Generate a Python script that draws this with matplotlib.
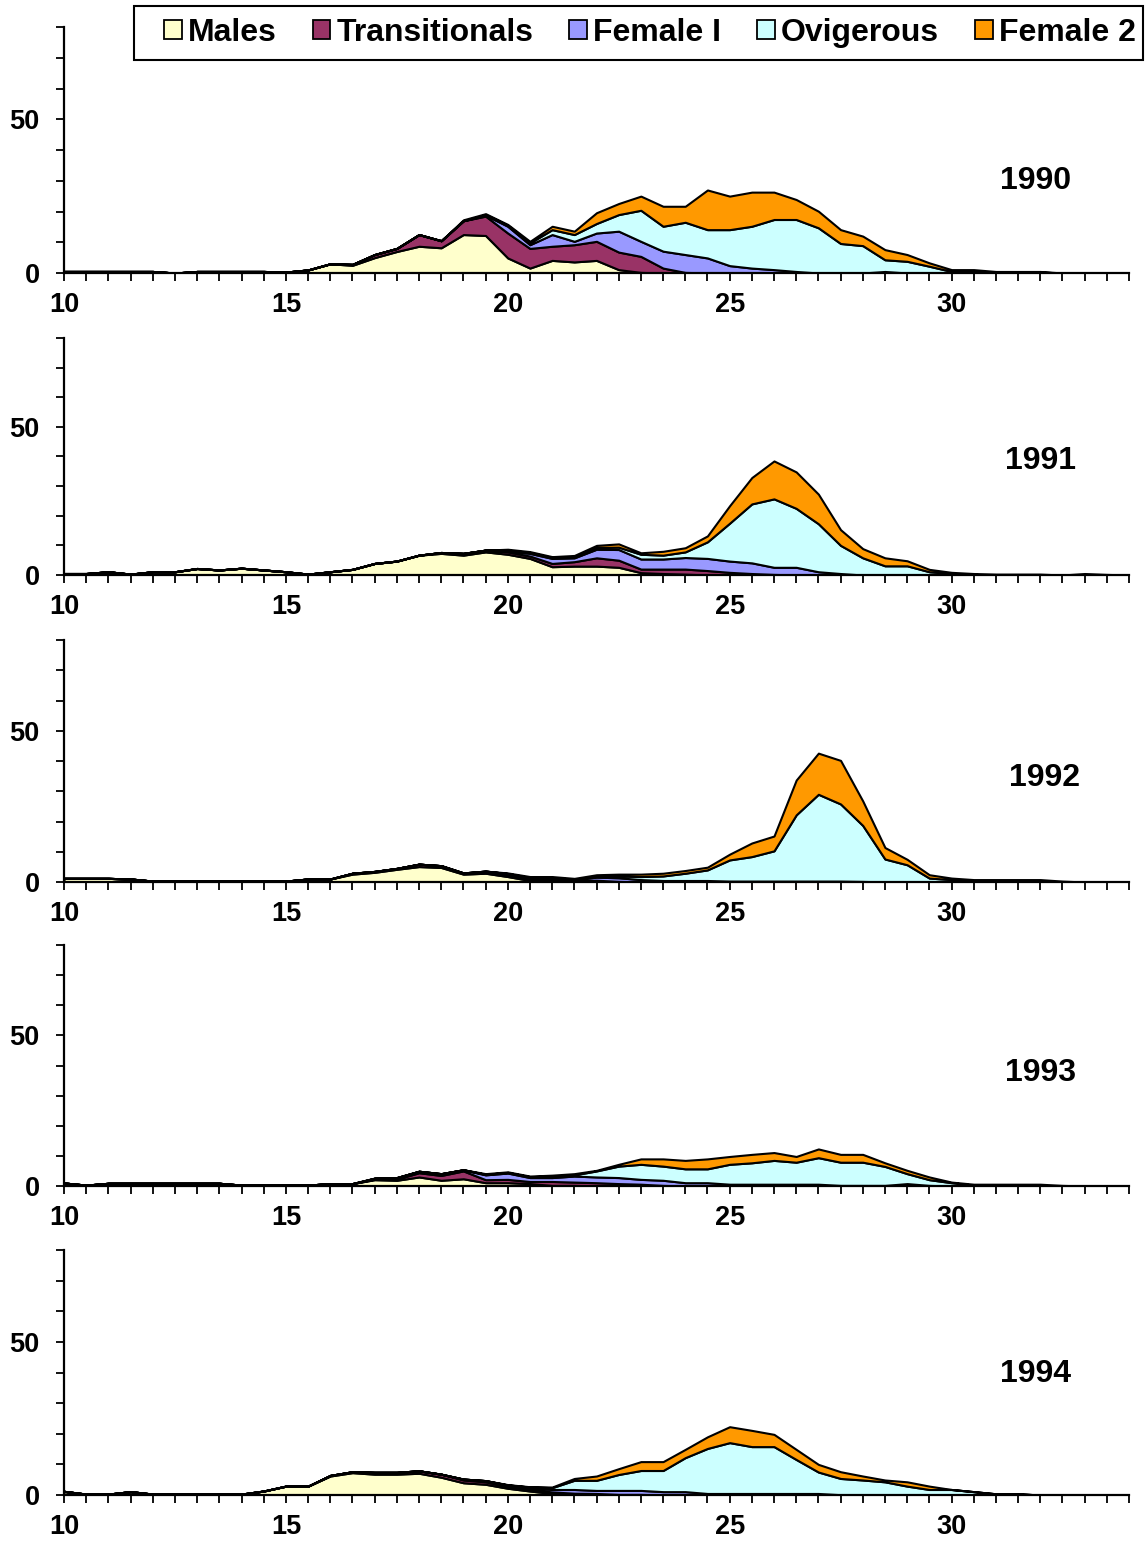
import numpy as np
import matplotlib.pyplot as plt
from matplotlib.patches import Patch, Rectangle
from matplotlib.ticker import MultipleLocator

plt.rcParams['font.family'] = ['Liberation Sans', 'DejaVu Sans']
plt.rcParams['font.weight'] = 'bold'

# carapace length classes 10 .. 34 step 0.5
sizes = np.arange(10, 34.01, 0.5)

series_names = ['Males', 'Transitionals', 'Female I', 'Ovigerous', 'Female 2']
series_colors = ['#FFFFCC', '#993366', '#9999FF', '#CCFFFF', '#FF9900']
years = ['1990', '1991', '1992', '1993', '1994']

# ---- 1990
males_1990 = [0.5, 0.5, 0.5, 0.5, 0.5, 0, 0.5, 0.5, 0.5, 0.5,
              0.3, 1, 3, 2.5, 5, 7, 8.7, 8.2, 12.5, 12.2,
              4.9, 1.6, 4.1, 3.6, 4.1, 1.1, 0.2, 0, 0, 0,
              0, 0, 0, 0, 0, 0, 0, 0, 0, 0,
              0, 0, 0, 0, 0, 0, 0, 0, 0]
trans_1990 = [0, 0, 0, 0, 0, 0, 0, 0, 0, 0,
              0, 0, 0, 0.3, 1, 1, 3.8, 2.3, 4.5, 6.3,
              8.1, 6.4, 4.6, 5.6, 6.2, 5.7, 5.2, 1.6, 0.2, 0,
              0, 0, 0, 0, 0, 0, 0, 0, 0, 0,
              0, 0, 0, 0, 0, 0, 0, 0, 0]
femI_1990 = [0, 0, 0, 0, 0, 0, 0, 0, 0, 0,
             0, 0, 0, 0, 0, 0, 0, 0, 0, 0.3,
             2.2, 1.2, 3.8, 1.1, 2.7, 6.8, 4.9, 5.5, 5.8, 4.9,
             2.4, 1.6, 1.1, 0.5, 0, 0, 0, 0.5, 0, 0,
             0, 0, 0, 0, 0, 0, 0, 0, 0]
ovig_1990 = [0, 0, 0, 0, 0, 0, 0, 0, 0, 0,
             0, 0, 0, 0, 0, 0, 0, 0, 0, 0.2,
             0.3, 0.6, 1.6, 2.2, 3.1, 5.4, 10.1, 8.1, 10.5, 9.2,
             11.7, 13.6, 16.3, 16.9, 14.7, 9.6, 8.9, 3.8, 3.8, 2.2,
             0.5, 0.5, 0.3, 0.3, 0.3, 0, 0, 0, 0]
fem2_1990 = [0, 0, 0, 0, 0, 0, 0, 0, 0, 0,
             0, 0, 0, 0, 0, 0, 0, 0, 0.3, 0.3,
             0.3, 0.5, 1.1, 1.1, 3.5, 3.6, 4.6, 6.5, 5.2, 12.9,
             10.9, 11.1, 8.9, 6.5, 5.4, 4.5, 3.1, 3.3, 2.2, 1.1,
             0.6, 0.6, 0.2, 0.2, 0.2, 0, 0, 0, 0]

# ---- 1991
males_1991 = [0.5, 0.5, 1.1, 0.3, 1.1, 1.1, 2.2, 1.7, 2.3, 1.7,
              1.1, 0.3, 1.1, 1.9, 3.9, 4.7, 6.7, 7.3, 6.7, 7.8,
              7.0, 5.6, 2.8, 3.0, 3.0, 2.6, 0.8, 0.5, 0.3, 0,
              0, 0, 0, 0, 0, 0, 0, 0, 0, 0,
              0, 0, 0, 0, 0, 0, 0, 0, 0]
trans_1991 = [0, 0, 0, 0, 0, 0, 0, 0, 0, 0,
              0, 0, 0, 0, 0, 0, 0, 0.3, 0.6, 0.6,
              0.8, 0.8, 1.1, 1.5, 2.8, 2.4, 1.2, 1.5, 1.7, 1.5,
              0.9, 0.5, 0.2, 0, 0, 0, 0, 0, 0, 0,
              0, 0, 0, 0, 0, 0, 0, 0, 0]
femI_1991 = [0, 0, 0, 0, 0, 0, 0, 0, 0, 0,
             0, 0, 0, 0, 0, 0, 0, 0, 0, 0,
             0.4, 0.9, 1.7, 1.3, 2.9, 3.6, 3.4, 3.4, 3.9, 4.1,
             3.8, 3.6, 2.4, 2.6, 1.1, 0.5, 0, 0, 0, 0,
             0, 0, 0, 0, 0, 0, 0, 0, 0]
ovig_1991 = [0, 0, 0, 0, 0, 0, 0, 0, 0, 0,
             0, 0, 0, 0, 0, 0, 0, 0, 0, 0,
             0.2, 0.3, 0.3, 0.3, 0.6, 0.8, 1.6, 1.3, 1.9, 5.6,
             12.8, 19.9, 23.1, 19.9, 16.2, 9.5, 5.8, 3.1, 3.1, 1.1,
             0.5, 0.2, 0, 0, 0, 0, 0, 0, 0]
fem2_1991 = [0, 0, 0, 0, 0, 0, 0, 0, 0, 0,
             0, 0, 0, 0, 0, 0, 0, 0, 0, 0,
             0.3, 0.3, 0.3, 0.5, 0.7, 1.1, 0.5, 1.3, 1.4, 2.0,
             5.9, 8.9, 12.8, 12.3, 10.0, 5.3, 3.1, 2.7, 1.7, 0.8,
             0.4, 0.3, 0.3, 0.3, 0.3, 0, 0.5, 0.2, 0]

# ---- 1992
males_1992 = [1.2, 1.2, 1.2, 1.0, 0.3, 0.3, 0.3, 0.3, 0.3, 0.3,
              0.3, 1.0, 1.0, 2.6, 3.2, 4.2, 5.1, 4.8, 2.6, 2.9,
              1.8, 0.5, 0.5, 0.3, 0.3, 0.2, 0, 0, 0, 0,
              0, 0, 0, 0, 0, 0, 0, 0, 0, 0,
              0, 0, 0, 0, 0, 0, 0, 0, 0]
trans_1992 = [0, 0, 0, 0, 0, 0, 0, 0, 0, 0,
              0, 0, 0, 0.3, 0.3, 0.3, 0.8, 0.6, 0.4, 0.5,
              0.6, 0.6, 0.5, 0.3, 0.3, 0, 0, 0, 0, 0,
              0, 0, 0, 0, 0, 0, 0, 0, 0, 0,
              0, 0, 0, 0, 0, 0, 0, 0, 0]
femI_1992 = [0, 0, 0, 0, 0, 0, 0, 0, 0, 0,
             0, 0, 0, 0, 0, 0, 0, 0, 0, 0.2,
             0.4, 0.4, 0.5, 0.3, 1.0, 1.2, 0.8, 0.5, 0.5, 0.5,
             0.3, 0.3, 0.3, 0.3, 0.3, 0.3, 0.2, 0, 0, 0,
             0, 0, 0, 0, 0, 0, 0, 0, 0]
ovig_1992 = [0, 0, 0, 0, 0, 0, 0, 0, 0, 0,
             0, 0, 0, 0, 0, 0, 0, 0, 0, 0,
             0, 0, 0, 0, 0.3, 0.6, 1.0, 1.5, 2.4, 3.5,
             7.0, 8.1, 10.0, 21.9, 28.7, 25.5, 18.5, 7.6, 5.7, 1.3,
             0.8, 0.3, 0, 0, 0, 0, 0, 0, 0]
fem2_1992 = [0, 0, 0, 0, 0, 0, 0, 0, 0, 0,
             0, 0, 0, 0, 0, 0, 0, 0, 0, 0,
             0.2, 0.3, 0.3, 0.3, 0.5, 0.6, 0.8, 0.9, 0.9, 0.9,
             1.9, 4.5, 4.9, 11.5, 13.6, 14.4, 8.1, 3.8, 1.8, 1.1,
             0.5, 0.5, 0.8, 0.8, 0.8, 0.3, 0, 0, 0]

# ---- 1993
males_1993 = [1.0, 0.3, 0.9, 0.9, 0.9, 0.9, 0.9, 0.9, 0.3, 0.3,
              0.3, 0.3, 0.8, 0.8, 2.1, 1.9, 3.0, 1.9, 2.4, 1.1,
              1.1, 0.8, 0.2, 0.2, 0, 0, 0, 0, 0, 0,
              0, 0, 0, 0, 0, 0, 0, 0, 0, 0,
              0, 0, 0, 0, 0, 0, 0, 0, 0]
trans_1993 = [0, 0, 0, 0, 0, 0, 0, 0, 0, 0,
              0, 0, 0, 0, 0.2, 0.4, 1.4, 1.6, 2.6, 1.0,
              1.1, 0.7, 1.3, 1.1, 1.1, 0.8, 0.6, 0.2, 0, 0,
              0, 0, 0, 0, 0, 0, 0, 0, 0, 0,
              0, 0, 0, 0, 0, 0, 0, 0, 0]
femI_1993 = [0, 0, 0, 0, 0, 0, 0, 0, 0, 0,
             0, 0, 0, 0, 0.3, 0.5, 0.5, 0.6, 0.4, 1.6,
             2.1, 1.3, 1.3, 2.0, 1.9, 2.0, 1.6, 1.7, 1.1, 1.1,
             0.6, 0.6, 0.6, 0.6, 0.6, 0.2, 0.2, 0.2, 0.8, 0.2,
             0, 0, 0, 0, 0, 0, 0, 0, 0]
ovig_1993 = [0, 0, 0, 0, 0, 0, 0, 0, 0, 0,
             0, 0, 0, 0, 0, 0, 0, 0, 0, 0.2,
             0.2, 0.3, 0.5, 0.4, 2.0, 3.8, 5.0, 4.7, 4.6, 4.6,
             6.6, 7.1, 7.9, 7.3, 8.8, 7.7, 7.7, 6.3, 3.3, 1.9,
             1.1, 0.3, 0, 0, 0, 0, 0, 0, 0]
fem2_1993 = [0, 0, 0, 0, 0, 0, 0, 0, 0, 0,
             0, 0, 0, 0, 0, 0, 0, 0, 0, 0.2,
             0.2, 0.2, 0.3, 0.4, 0.2, 0.6, 1.8, 2.4, 2.8, 3.3,
             2.6, 2.8, 2.6, 1.9, 2.9, 2.6, 2.6, 1.2, 1.1, 0.9,
             0.2, 0.3, 0.6, 0.6, 0.6, 0.2, 0, 0, 0]

# ---- 1994
males_1994 = [1.2, 0.3, 0.3, 1.1, 0.3, 0.3, 0.3, 0.3, 0.3, 1.3,
              2.9, 2.9, 6.2, 7.3, 6.8, 6.8, 7.1, 5.8, 4.0, 3.5,
              2.2, 1.3, 0.5, 0.3, 0.2, 0, 0, 0, 0, 0,
              0, 0, 0, 0, 0, 0, 0, 0, 0, 0,
              0, 0, 0, 0, 0, 0, 0, 0, 0]
trans_1994 = [0, 0, 0, 0, 0, 0, 0, 0, 0, 0,
              0, 0, 0.2, 0.3, 0.6, 0.6, 0.8, 1.0, 0.9, 0.8,
              0.6, 0.6, 0.5, 0.3, 0.3, 0.2, 0.2, 0, 0, 0,
              0, 0, 0, 0, 0, 0, 0, 0, 0, 0,
              0, 0, 0, 0, 0, 0, 0, 0, 0]
femI_1994 = [0, 0, 0, 0, 0, 0, 0, 0, 0, 0,
             0, 0, 0, 0, 0, 0, 0, 0, 0.3, 0.4,
             0.4, 0.5, 0.8, 1.2, 1.0, 1.3, 1.3, 1.1, 1.1, 0.5,
             0.5, 0.5, 0.5, 0.5, 0.5, 0.1, 0, 0, 0, 0,
             0, 0, 0, 0, 0, 0, 0, 0, 0]
ovig_1994 = [0, 0, 0, 0, 0, 0, 0, 0, 0, 0,
             0, 0, 0, 0, 0, 0, 0, 0, 0, 0,
             0.1, 0.2, 0.6, 3.0, 3.3, 5.2, 6.5, 6.9, 11.1, 14.7,
             16.6, 15.3, 15.3, 11.1, 7.0, 5.3, 4.9, 4.3, 2.9, 1.8,
             1.8, 1.1, 0.4, 0.4, 0, 0, 0, 0, 0]
fem2_1994 = [0, 0, 0, 0, 0, 0, 0, 0, 0, 0,
             0, 0, 0, 0, 0, 0, 0, 0, 0, 0,
             0.1, 0.1, 0.2, 0.6, 1.4, 1.9, 2.9, 2.9, 2.7, 3.8,
             5.2, 5.3, 4.0, 3.3, 2.5, 2.2, 1.3, 0.6, 1.4, 1.1,
             0, 0, 0, 0, 0, 0, 0, 0, 0]

panels = [
    (males_1990, trans_1990, femI_1990, ovig_1990, fem2_1990),
    (males_1991, trans_1991, femI_1991, ovig_1991, fem2_1991),
    (males_1992, trans_1992, femI_1992, ovig_1992, fem2_1992),
    (males_1993, trans_1993, femI_1993, ovig_1993, fem2_1993),
    (males_1994, trans_1994, femI_1994, ovig_1994, fem2_1994),
]
# year label position (data coords)
year_x = [31.9, 32.0, 32.1, 32.0, 31.9]
year_y = [30, 38.5, 34.5, 37.5, 39.5]

W, H = 1145, 1543
fig = plt.figure(figsize=(W / 100, H / 100), dpi=100)

# axes boxes in pixels: (bottom, top)
boxes = [(273, 27), (575, 338), (882, 640), (1186, 945), (1495, 1250)]
x_left, x_right = 64, 1129

for (ybot, ytop), data, yr, yx, yy in zip(boxes, panels, years, year_x, year_y):
    ax = fig.add_axes([x_left / W, 1 - ybot / H, (x_right - x_left) / W, (ybot - ytop) / H])
    ax.stackplot(sizes, *data, colors=series_colors, edgecolor='black', linewidth=1.5)
    ax.set_xlim(10, 34)
    ax.set_ylim(0, 80)
    ax.spines['top'].set_visible(False)
    ax.spines['right'].set_visible(False)
    for s in ('left', 'bottom'):
        ax.spines[s].set_linewidth(1.6)
        ax.spines[s].set_zorder(5)
    ax.xaxis.set_major_locator(MultipleLocator(5))
    ax.xaxis.set_minor_locator(MultipleLocator(0.5))
    ax.yaxis.set_major_locator(MultipleLocator(50))
    ax.yaxis.set_minor_locator(MultipleLocator(10))
    ax.tick_params(which='both', direction='out', length=5.5, width=1.3, color='black')
    ax.tick_params(axis='x', which='major', labelsize=19.5, pad=8.5)
    ax.tick_params(axis='y', which='major', labelsize=19.5, pad=12)
    for lab in ax.get_xticklabels() + ax.get_yticklabels():
        lab.set_fontweight('bold')
    ax.text(yx, yy, yr, ha='center', va='center', fontsize=23, fontweight='bold')

# legend box drawn by hand so its padding matches the original
fig.patches.append(Rectangle((134 / W, 1 - 60 / H), (1143 - 134) / W, 54 / H,
                             transform=fig.transFigure, fill=False,
                             edgecolor='black', linewidth=1.5))
handles = [Patch(facecolor=c, edgecolor='black', linewidth=1.3) for c in series_colors]
leg = fig.legend(handles, series_names, ncol=5, loc='center left',
                 bbox_to_anchor=(164 / W, 1 - 33 / H), frameon=False,
                 prop={'size': 23, 'weight': 'bold'}, handlelength=0.55, handleheight=0.55,
                 handletextpad=0.2, columnspacing=1.12, borderpad=0, borderaxespad=0)

fig.savefig('out.png', dpi=100)
